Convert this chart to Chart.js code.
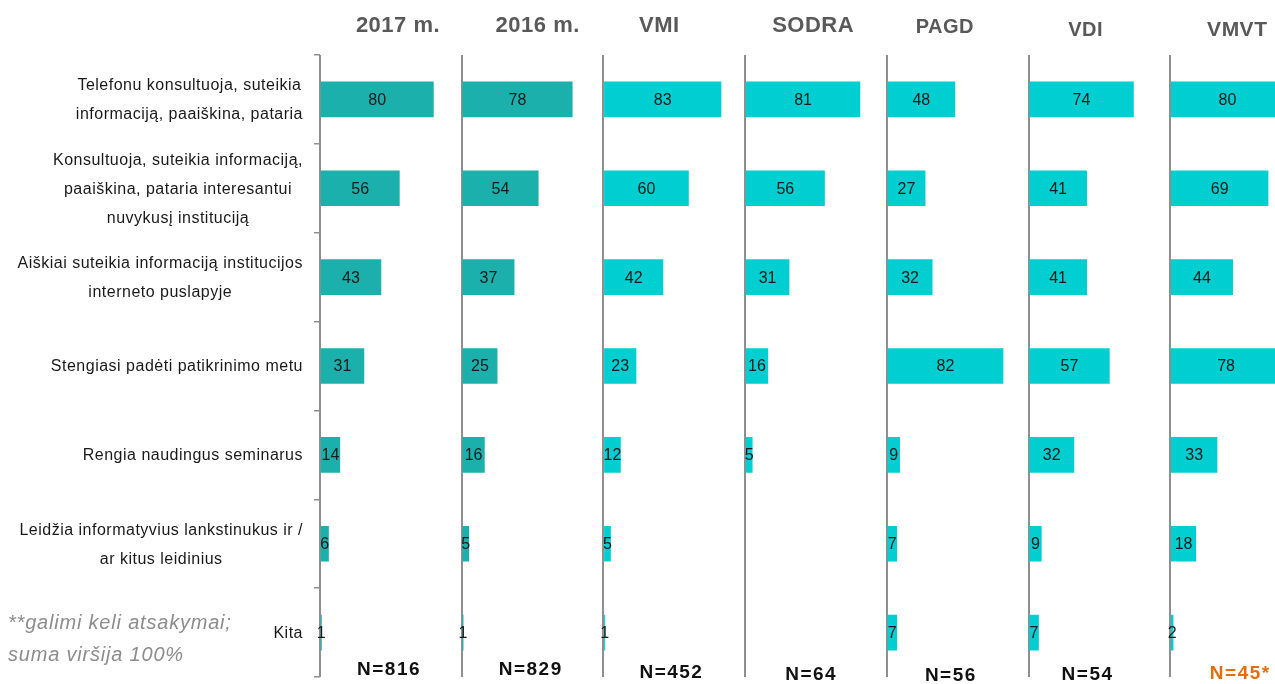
<!DOCTYPE html>
<html lang="lt">
<head>
    <meta charset="UTF-8">
    <title>Institucijų pagalba</title>
    <script src="https://cdn.jsdelivr.net/npm/chart.js"></script>
    <style>
        html, body { margin: 0; padding: 0; background: #fff; overflow: hidden; }
        #wrap { position: relative; width: 1330px; height: 684px; }
    </style>
</head>
<body>
<div id="wrap"><canvas id="chart" width="1330" height="684"></canvas></div>
<script>
// category labels (one entry per row, split into lines)
const categories = [
    ['Telefonu konsultuoja, suteikia', 'informaciją, paaiškina, pataria'],
    ['Konsultuoja, suteikia informaciją,', 'paaiškina, pataria interesantui', 'nuvykusį instituciją'],
    ['Aiškiai suteikia informaciją institucijos', 'interneto puslapyje'],
    ['Stengiasi padėti patikrinimo metu'],
    ['Rengia naudingus seminarus'],
    ['Leidžia informatyvius lankstinukus ir /', 'ar kitus leidinius'],
    ['Kita']
];
const panels = ['2017 m.', '2016 m.', 'VMI', 'SODRA', 'PAGD', 'VDI', 'VMVT'];
const sampleSizes = ['N=816', 'N=829', 'N=452', 'N=64', 'N=56', 'N=54', 'N=45*'];

const y2017 = [80, 56, 43, 31, 14, 6, 1];
const y2016 = [78, 54, 37, 25, 16, 5, 1];
const vmi   = [83, 60, 42, 23, 12, 5, 1];
const sodra = [81, 56, 31, 16, 5, null, null];
const pagd  = [48, 27, 32, 82, 9, 7, 7];
const vdi   = [74, 41, 41, 57, 32, 9, 7];
const vmvt  = [80, 69, 44, 78, 33, 18, 2];

const footnote = ['**galimi keli atsakymai;', 'suma viršija 100%'];

// styles
const TEAL = '#1bb0ac';
const CYAN = '#00ced1';
const AXIS = '#8f8f8f';
const FONT = '"Liberation Sans", Arial, sans-serif';

// header / N label placement relative to each panel's axis line
const headerStyle = [
    { dx: 78, y: 26, size: 22 },
    { dx: 76, y: 26, size: 22 },
    { dx: 56, y: 26, size: 22 },
    { dx: 68, y: 26, size: 22 },
    { dx: 58, y: 27, size: 20 },
    { dx: 57, y: 30, size: 20 },
    { dx: 67, y: 30, size: 21 }
];
const nStyle = [
    { dx: 69, y: 670, color: '#111' },
    { dx: 69, y: 670, color: '#111' },
    { dx: 68, y: 673, color: '#111' },
    { dx: 66, y: 675, color: '#111' },
    { dx: 64, y: 676, color: '#111' },
    { dx: 59, y: 675, color: '#111' },
    { dx: 70, y: 674, color: '#e46c0a' }
];

const series = [y2017, y2016, vmi, sodra, pagd, vdi, vmvt];

let scales = {
    y: {
        type: 'category',
        labels: categories,
        offset: true,
        ticks: { display: false },
        border: { display: false },
        grid: {
            offset: true,
            drawOnChartArea: false,
            drawTicks: true,
            tickLength: 6,
            color: AXIS,
            lineWidth: 1.5
        },
        afterFit: s => { s.width = 320; }
    }
};
panels.forEach((p, i) => {
    scales['x' + i] = {
        type: 'linear',
        position: 'bottom',
        stack: 'panels',
        stackWeight: 1,
        min: 0,
        max: 100,
        ticks: { display: false },
        border: { display: false },
        grid: {
            drawTicks: false,
            lineWidth: 2,
            color: c => (c.tick && c.tick.value === 0) ? AXIS : 'rgba(0,0,0,0)'
        },
        afterFit: s => { s.height = 0; }
    };
});

// draws value labels, row labels, panel headers, N labels and the footnote
const textPlugin = {
    id: 'panelText',
    afterDatasetsDraw(chart) {
        const ctx = chart.ctx;
        ctx.save();
        ctx.textAlign = 'center';
        ctx.textBaseline = 'middle';

        // values inside bars
        ctx.font = '16px ' + FONT;
        ctx.fillStyle = '#1a1a1a';
        chart.data.datasets.forEach((ds, i) => {
            chart.getDatasetMeta(i).data.forEach((bar, j) => {
                const v = ds.data[j];
                if (v == null) return;
                ctx.fillText(String(v), (bar.x + bar.base) / 2, bar.y + 1);
            });
        });

        // row labels: block right aligned, lines centred
        const yScale = chart.scales.y;
        ctx.letterSpacing = '0.5px';
        ctx.fillStyle = '#1a1a1a';
        categories.forEach((lines, i) => {
            const cy = yScale.getPixelForValue(i);
            const w = Math.max(...lines.map(l => ctx.measureText(l).width));
            const cx = yScale.right - 17 - w / 2;
            lines.forEach((l, k) => {
                ctx.fillText(l, cx, cy + (k - (lines.length - 1) / 2) * 29 + 1);
            });
        });

        // headers
        ctx.letterSpacing = '0.5px';
        ctx.fillStyle = '#595959';
        panels.forEach((p, i) => {
            const xs = chart.scales['x' + i];
            const st = headerStyle[i];
            ctx.font = 'bold ' + st.size + 'px ' + FONT;
            ctx.fillText(p, xs.left + st.dx, st.y);
        });

        // sample sizes
        ctx.letterSpacing = '1.5px';
        ctx.font = 'bold 19px ' + FONT;
        sampleSizes.forEach((n, i) => {
            const xs = chart.scales['x' + i];
            const st = nStyle[i];
            ctx.fillStyle = st.color;
            ctx.fillText(n, xs.left + st.dx, st.y);
        });

        // footnote
        ctx.letterSpacing = '0.8px';
        ctx.font = 'italic 20px ' + FONT;
        ctx.fillStyle = '#8c8c8c';
        ctx.textAlign = 'left';
        footnote.forEach((t, k) => ctx.fillText(t, 8, 623 + k * 32));

        ctx.restore();
    }
};

new Chart(document.getElementById('chart').getContext('2d'), {
    type: 'bar',
    data: {
        labels: categories,
        datasets: series.map((d, i) => ({
            label: panels[i],
            data: d,
            xAxisID: 'x' + i,
            yAxisID: 'y',
            backgroundColor: i < 2 ? TEAL : CYAN,
            borderWidth: 0,
            barThickness: 35,
            grouped: false
        }))
    },
    options: {
        indexAxis: 'y',
        responsive: false,
        animation: false,
        devicePixelRatio: 1,
        layout: { padding: { left: 0, top: 55, right: 18, bottom: 7 } },
        plugins: {
            legend: { display: false },
            tooltip: { enabled: false }
        },
        scales: scales
    },
    plugins: [textPlugin]
});
</script>
</body>
</html>
